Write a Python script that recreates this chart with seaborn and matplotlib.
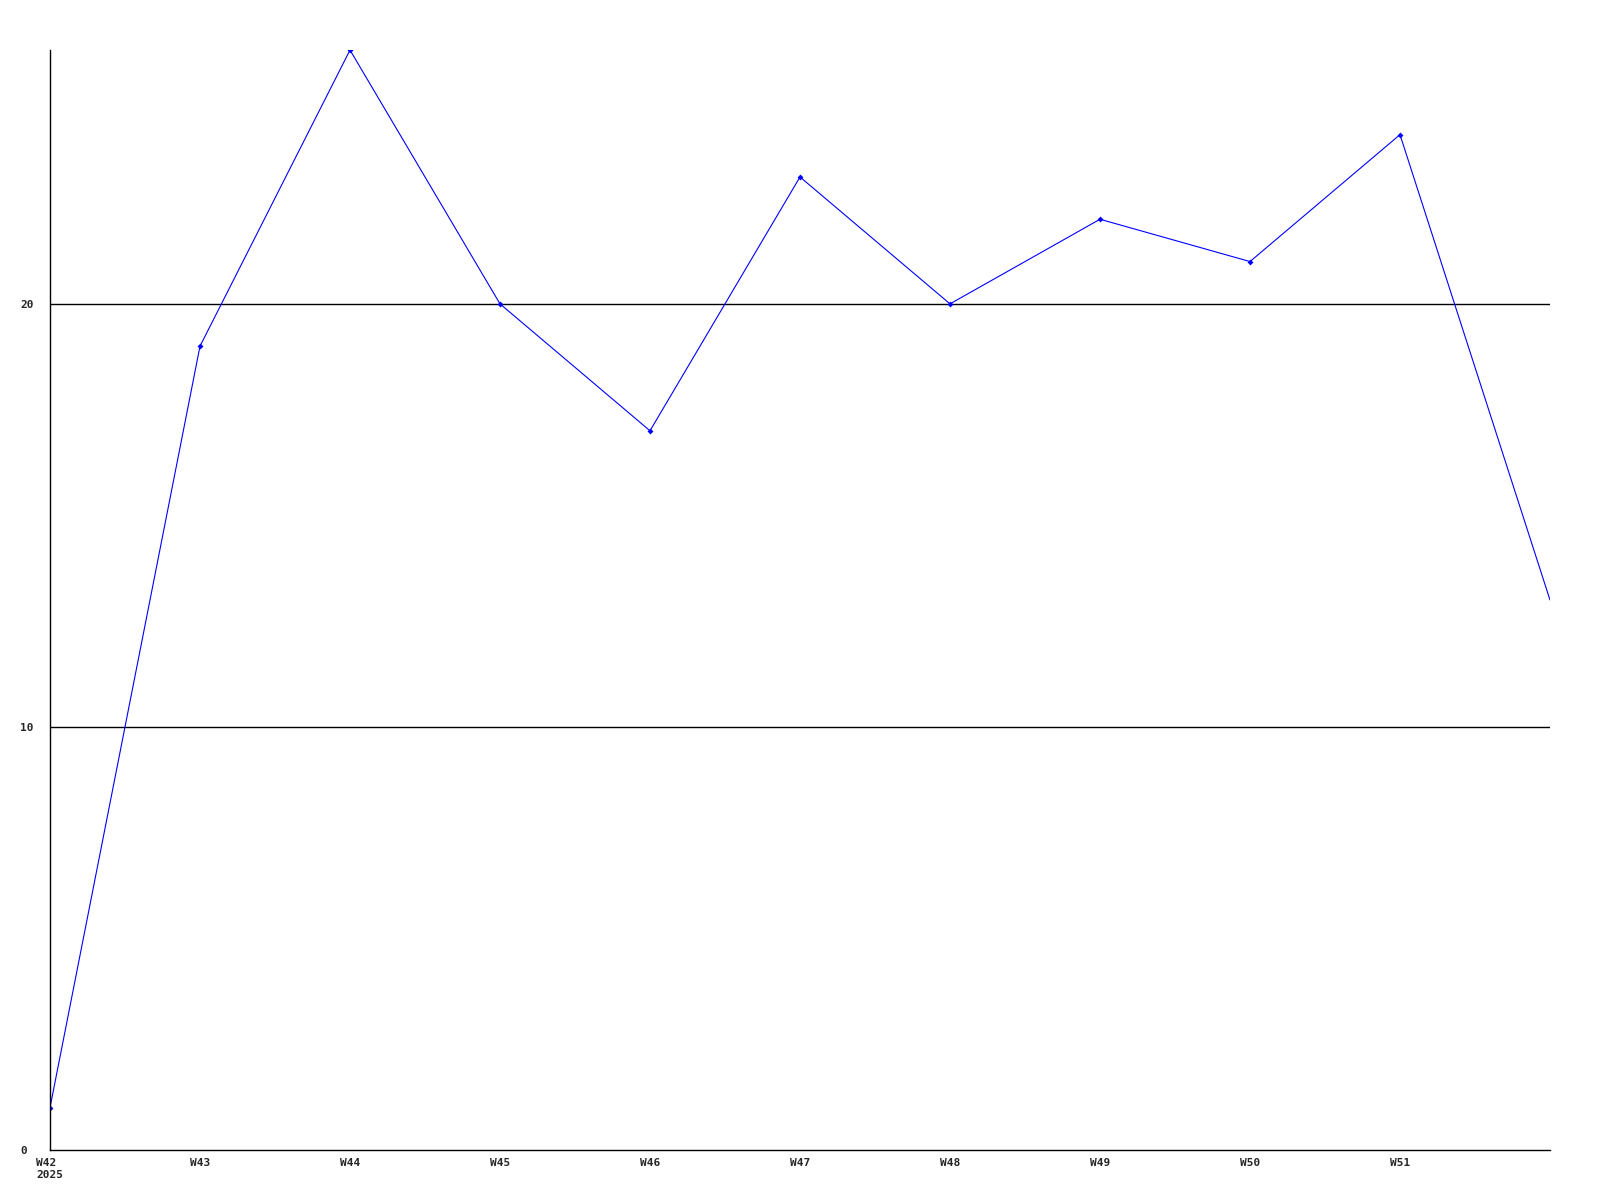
import seaborn as sns
import matplotlib.pyplot as plt
import pandas as pd

weeks = ["W42", "W43", "W44", "W45", "W46", "W47", "W48", "W49", "W50", "W51", "W52"]
counts = [1, 19, 26, 20, 17, 23, 20, 22, 21, 24, 13]
tick_labels = ["W42\n2025", "W43", "W44", "W45", "W46", "W47", "W48", "W49", "W50", "W51"]
y_ticks = [0, 10, 20]


def plot_weekly(df, save_path="out.png"):
    sns.set_style("white")
    plt.rcParams["font.family"] = ["DejaVu Sans Mono"]
    fig = plt.figure(figsize=(16, 12), dpi=100)
    ax = fig.add_axes([0.03125, 0.0417, 0.9375, 0.9166])
    sns.lineplot(x="pos", y="count", data=df, ax=ax, color="#0000ff",
                 linewidth=0.8, marker="D", markersize=3, markeredgewidth=0,
                 markevery=list(range(len(weeks) - 1)))
    ax.set_xlim(0, len(weeks) - 1)
    ax.set_ylim(0, max(counts))
    ax.set_xticks(range(len(tick_labels)))
    ax.set_xticklabels(tick_labels, fontsize=8, fontweight="bold",
                       multialignment="left")
    ax.set_yticks(y_ticks)
    ax.set_yticklabels([str(v) for v in y_ticks], fontsize=8, fontweight="bold",
                       ha="left")
    ax.tick_params(axis="x", length=0, pad=6)
    ax.tick_params(axis="y", length=0, pad=21.5)
    for v in y_ticks[1:]:
        ax.axhline(v, color="black", linewidth=1, zorder=0)
    for s in ["top", "right"]:
        ax.spines[s].set_visible(False)
    for s in ["left", "bottom"]:
        ax.spines[s].set_color("black")
        ax.spines[s].set_linewidth(1)
    ax.set_xlabel("")
    ax.set_ylabel("")
    fig.savefig(save_path, dpi=100)


if __name__ == "__main__":
    df = pd.DataFrame({"week": weeks, "pos": range(len(weeks)), "count": counts})
    plot_weekly(df)
